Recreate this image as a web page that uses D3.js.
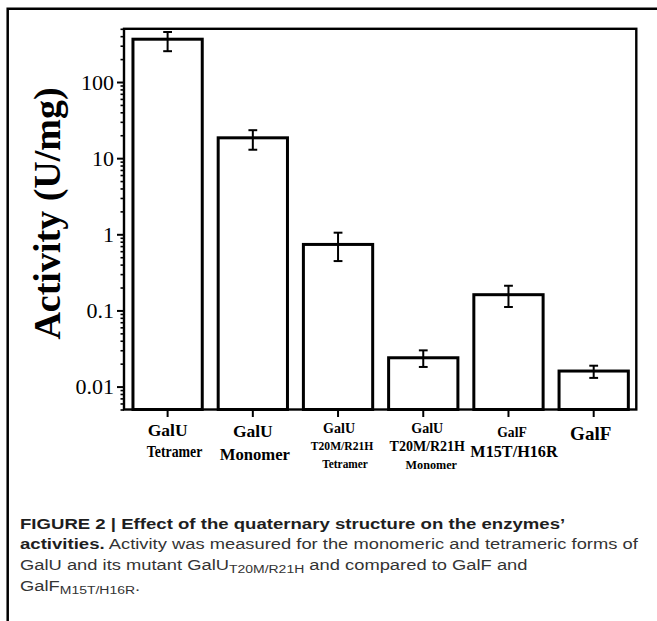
<!DOCTYPE html>
<html><head><meta charset="utf-8">
<script src="https://cdn.jsdelivr.net/npm/d3@7"></script>
<style>
html,body{margin:0;padding:0;background:#fff;}
svg{display:block;}
</style></head>
<body><svg id="c" width="657" height="621"></svg>
<script>
// ---- data ----
const categories = ["GalU Tetramer","GalU Monomer","GalU T20M/R21H Tetramer","GalU T20M/R21H Monomer","GalF M15T/H16R","GalF"];
const labelLines = [["GalU","Tetramer"],["GalU","Monomer"],["GalU","T20M/R21H","Tetramer"],["GalU","T20M/R21H","Monomer"],["GalF","M15T/H16R"],["GalF"]];
const activity = [365, 18.5, 0.736, 0.0239, 0.161, 0.0160];
const errLow   = [254, 12.9, 0.445, 0.0181, 0.111, 0.0130];
const errHigh  = [454, 23.3, 1.05, 0.0299, 0.211, 0.0188];
const yTicks = [0.01, 0.1, 1, 10, 100];
const yTickLabels = ["0.01","0.1","1","10","100"];
const yTitle = "Activity (U/mg)";

// ---- styles (per label line: font size, baseline, x offset, horizontal scale) ----
const lineStyle = [
  [[17.5,436,0,1],[17.3,457,7,0.8]],
  [[17.5,437,0,1],[17,460,2,0.98]],
  [[14,433,1,1],[11.6,450,4,1],[11.6,468,7,0.98]],
  [[14,433,4,1],[14,451,4,1],[12.2,469,8,1]],
  [[13.6,437,3.5,1],[16.2,457,5.5,1]],
  [[19,440,-3,1]]
];

const svg = d3.select("#c");
const L = 124, R = 636.3, T = 28.8, B = 409.5;

// outer frame (top and left)
svg.append("path").attr("d", `M7.7,621 L7.7,8.7 L657,8.7`).attr("fill","none").attr("stroke","#000").attr("stroke-width",2.5);

const x = d3.scaleBand().domain(categories).range([125, 636.3]).paddingInner(0.187).paddingOuter(0.0935);
const y = d3.scaleLog().domain([0.005, 500]).range([B, T]);

const serif = "'Liberation Serif','Times New Roman',serif";

// minor y ticks
const minor = y.ticks().filter(v => !yTicks.some(t => Math.abs(t - v) / t < 1e-6));
const gMinor = svg.append("g").attr("transform", `translate(${L},0)`)
  .call(d3.axisLeft(y).tickValues(minor).tickSize(3.5).tickFormat(""));
gMinor.select(".domain").remove();
gMinor.selectAll(".tick line").attr("stroke","#000").attr("stroke-width",1.6);

const gMajor = svg.append("g").attr("transform", `translate(${L},0)`)
  .call(d3.axisLeft(y).tickValues(yTicks).tickSize(7).tickPadding(3).tickFormat((d,i) => yTickLabels[i]));
gMajor.select(".domain").remove();
gMajor.selectAll(".tick line").attr("stroke","#000").attr("stroke-width",2);
gMajor.selectAll(".tick text").attr("font-family", serif).attr("font-size", 22).attr("fill","#000");

// x ticks
const gx = svg.append("g").attr("transform", `translate(0,${B})`)
  .call(d3.axisBottom(x).tickSize(7.5).tickFormat(""));
gx.select(".domain").remove();
gx.selectAll(".tick line").attr("stroke","#000").attr("stroke-width",2);

// bars
svg.append("g").selectAll("rect").data(categories).join("rect")
  .attr("x", d => x(d)).attr("width", x.bandwidth())
  .attr("y", (d,i) => y(activity[i])).attr("height", (d,i) => B - y(activity[i]))
  .attr("fill","#fff").attr("stroke","#000").attr("stroke-width",3);

// error bars
const eg = svg.append("g").attr("stroke","#000").attr("stroke-width",2);
categories.forEach((c,i) => {
  const cx = x(c) + x.bandwidth()/2;
  eg.append("line").attr("x1",cx).attr("x2",cx).attr("y1",y(errLow[i])).attr("y2",y(errHigh[i]));
  [errLow[i], errHigh[i]].forEach(v => {
    eg.append("line").attr("x1",cx-4.4).attr("x2",cx+4.4).attr("y1",y(v)).attr("y2",y(v));
  });
});

// plot frame
svg.append("rect").attr("x",L).attr("y",T).attr("width",R-L).attr("height",B-T)
  .attr("fill","none").attr("stroke","#000").attr("stroke-width",2.4);

// x labels
const xl = svg.append("g").attr("font-family", serif).attr("font-weight","bold").attr("text-anchor","middle").attr("fill","#000");
labelLines.forEach((lines,i) => {
  const cx = x(categories[i]) + x.bandwidth()/2;
  lines.forEach((t,j) => {
    const s = lineStyle[i][j];
    xl.append("text").attr("transform", `translate(${cx + s[2]},${s[1]}) scale(${s[3]},1)`)
      .attr("font-size", s[0]).text(t);
  });
});

// y title
svg.append("text").attr("transform","translate(60,213.5) rotate(-90)")
  .attr("text-anchor","middle").attr("font-family",serif).attr("font-weight","bold")
  .attr("font-size",38).attr("fill","#000").text(yTitle);

// caption
const sans = "'Liberation Sans',Arial,Helvetica,sans-serif";
const cap = svg.append("g").attr("transform","translate(20,0) scale(1.215,1)")
  .attr("font-family",sans).attr("font-size",15.1).attr("fill","#333");
cap.append("text").attr("x",0).attr("y",528.6).attr("font-weight","bold").attr("font-size",15.3).attr("fill","#1e1e1e")
  .text("FIGURE 2 | Effect of the quaternary structure on the enzymes\u2019");
const l2 = cap.append("text").attr("x",0).attr("y",549.3);
l2.append("tspan").attr("font-weight","bold").attr("font-size",15.3).attr("fill","#1e1e1e").text("activities.");
l2.append("tspan").text(" Activity was measured for the monomeric and tetrameric forms of");
const l3 = cap.append("text").attr("x",0).attr("y",570);
l3.append("tspan").text("GalU and its mutant GalU");
l3.append("tspan").attr("font-size",11.5).attr("dy",3.5).text("T20M/R21H");
l3.append("tspan").attr("dy",-3.5).text(" and compared to GalF and");
const l4 = cap.append("text").attr("x",0).attr("y",591);
l4.append("tspan").text("GalF");
l4.append("tspan").attr("font-size",11.5).attr("dy",3.5).text("M15T/H16R");
l4.append("tspan").attr("dy",-3.5).text(".");
</script></body></html>
